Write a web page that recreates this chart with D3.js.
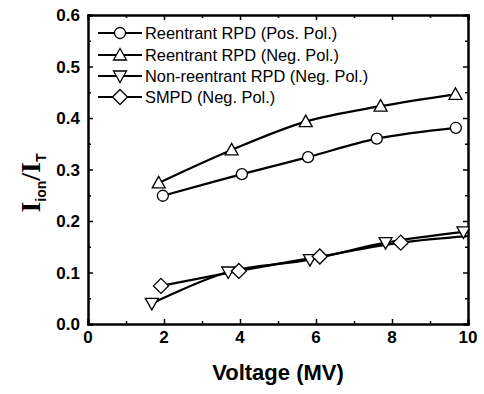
<!DOCTYPE html>
<html>
<head>
<meta charset="utf-8">
<script src="https://cdn.jsdelivr.net/npm/d3@7"></script>
<style>
  body { margin: 0; background: #fff; }
  text { font-family: "Liberation Sans", Arial, sans-serif; }
</style>
</head>
<body>
<div id="chart"></div>
<script>
// values
var seriesNames = ["Reentrant RPD (Pos. Pol.)", "Reentrant RPD (Neg. Pol.)",
                   "Non-reentrant RPD (Neg. Pol.)", "SMPD (Neg. Pol.)"];
var seriesSymbols = ["circle", "up", "down", "diamond"];

var posX = [1.97, 4.05, 5.79, 7.6, 9.68];
var posY = [0.249, 0.291, 0.324, 0.360, 0.381];

var negX = [1.86, 3.78, 5.73, 7.70, 9.67];
var negY = [0.274, 0.338, 0.393, 0.423, 0.446];

var nonX = [1.68, 3.69, 5.84, 7.83, 9.88];
var nonY = [0.040, 0.101, 0.125, 0.158, 0.179];

var smpdX = [1.92, 3.97, 6.1, 8.23, 10.25];
var smpdY = [0.074, 0.103, 0.131, 0.158, 0.172];

var xTicks = [0, 2, 4, 6, 8, 10];
var yTicks = [0.0, 0.1, 0.2, 0.3, 0.4, 0.5, 0.6];

var W = 484, H = 394;
var svg = d3.select("#chart").append("svg")
    .attr("width", W)
    .attr("height", H);

var x = d3.scaleLinear().domain([0, 10]).range([88, 468]);
var y = d3.scaleLinear().domain([0, 0.6]).range([324, 15]);

var allX = [posX, negX, nonX, smpdX];
var allY = [posY, negY, nonY, smpdY];
var series = allX.map(function(xs, i) {
    return xs.map(function(v, j) { return {x: v, y: allY[i][j]}; });
});

svg.append("clipPath").attr("id", "clip")
  .append("rect")
    .attr("x", 88).attr("y", 15)
    .attr("width", 380).attr("height", 309);

// axes, ticks inside
function axis(gen, tx, ty, major, minor, labels) {
    var g = svg.append("g").attr("transform", "translate(" + tx + "," + ty + ")");
    g.call(gen.tickValues(minor).tickSize(3).tickFormat(""));
    var g2 = svg.append("g").attr("transform", "translate(" + tx + "," + ty + ")");
    g2.call(gen.tickValues(major).tickSize(5).tickFormat(labels));
    [g, g2].forEach(function(s) {
        s.select(".domain").attr("stroke-width", 2).attr("stroke", "#000");
        s.selectAll(".tick line").attr("stroke-width", 1.5);
    });
    return g2;
}
var xMinor = [1, 3, 5, 7, 9];
var yMinor = [0.05, 0.15, 0.25, 0.35, 0.45, 0.55];

var gb = axis(d3.axisTop(x), 0, 324, xTicks, xMinor, d3.format("d"));
gb.selectAll(".tick text").remove();
axis(d3.axisBottom(x), 0, 15, xTicks, xMinor, "");
var gl = axis(d3.axisRight(y), 88, 0, yTicks, yMinor, d3.format(".1f"));
gl.selectAll(".tick text").remove();
axis(d3.axisLeft(y), 468, 0, yTicks, yMinor, "");

// tick labels
svg.selectAll(".xlab").data(xTicks).enter().append("text")
    .attr("x", function(d) { return x(d); })
    .attr("y", 343)
    .attr("text-anchor", "middle")
    .attr("font-size", "17px")
    .attr("font-weight", "bold")
    .text(function(d) { return d; });
svg.selectAll(".ylab").data(yTicks).enter().append("text")
    .attr("x", 80)
    .attr("y", function(d) { return y(d) + 6; })
    .attr("text-anchor", "end")
    .attr("font-size", "17px")
    .attr("font-weight", "bold")
    .text(function(d) { return d.toFixed(1); });

// axis titles
svg.append("text")
    .attr("x", 278).attr("y", 380)
    .attr("text-anchor", "middle")
    .attr("font-size", "22px")
    .attr("font-weight", "bold")
    .text("Voltage (MV)");

var yt = svg.append("text")
    .attr("transform", "translate(40,183) rotate(-90)")
    .attr("text-anchor", "middle")
    .attr("font-weight", "bold");
yt.append("tspan").style("font-family", "'Liberation Serif', 'Times New Roman', serif")
    .attr("font-size", "28px").text("I");
yt.append("tspan").attr("font-size", "14px").attr("dy", 6).text("ion");
yt.append("tspan").style("font-family", "'Liberation Serif', 'Times New Roman', serif")
    .attr("font-size", "28px").attr("dy", -6).text("/I");
yt.append("tspan").attr("font-size", "14px").attr("dy", 6).text("T");

// markers
function marker(sel, sym) {
    if (sym === "circle") {
        sel.append("circle").attr("r", 5.5);
    } else {
        var p;
        if (sym === "up") p = "M0,-6.5L6.5,5L-6.5,5Z";
        else if (sym === "down") p = "M0,6.5L6.5,-5L-6.5,-5Z";
        else p = "M0,-7.5L7.5,0L0,7.5L-7.5,0Z";
        sel.append("path").attr("d", p);
    }
    sel.selectAll("circle, path")
        .attr("fill", "#fff").attr("stroke", "#000").attr("stroke-width", 1.3);
}

var line = d3.line()
    .x(function(d) { return x(d.x); })
    .y(function(d) { return y(d.y); })
    .curve(d3.curveCatmullRom);

var plot = svg.append("g").attr("clip-path", "url(#clip)");
series.forEach(function(s, i) {
    plot.append("path")
        .datum(s)
        .attr("fill", "none")
        .attr("stroke", "#000")
        .attr("stroke-width", 2.2)
        .attr("d", line);
});
series.forEach(function(s, i) {
    plot.selectAll(".m" + i).data(s).enter().append("g")
        .attr("transform", function(d) { return "translate(" + x(d.x) + "," + y(d.y) + ")"; })
        .each(function() { marker(d3.select(this), seriesSymbols[i]); });
});

// legend
var legRows = [33, 55, 76, 97];
seriesNames.forEach(function(name, i) {
    var g = svg.append("g").attr("transform", "translate(0," + legRows[i] + ")");
    g.append("line").attr("x1", 98).attr("x2", 142).attr("y1", 0).attr("y2", 0)
        .attr("stroke", "#000").attr("stroke-width", 2.2);
    var m = g.append("g").attr("transform", "translate(120,0)");
    marker(m, seriesSymbols[i]);
    g.append("text").attr("x", 145).attr("y", 6)
        .attr("font-size", "16.4px")
        .text(name);
});
</script>
</body>
</html>
